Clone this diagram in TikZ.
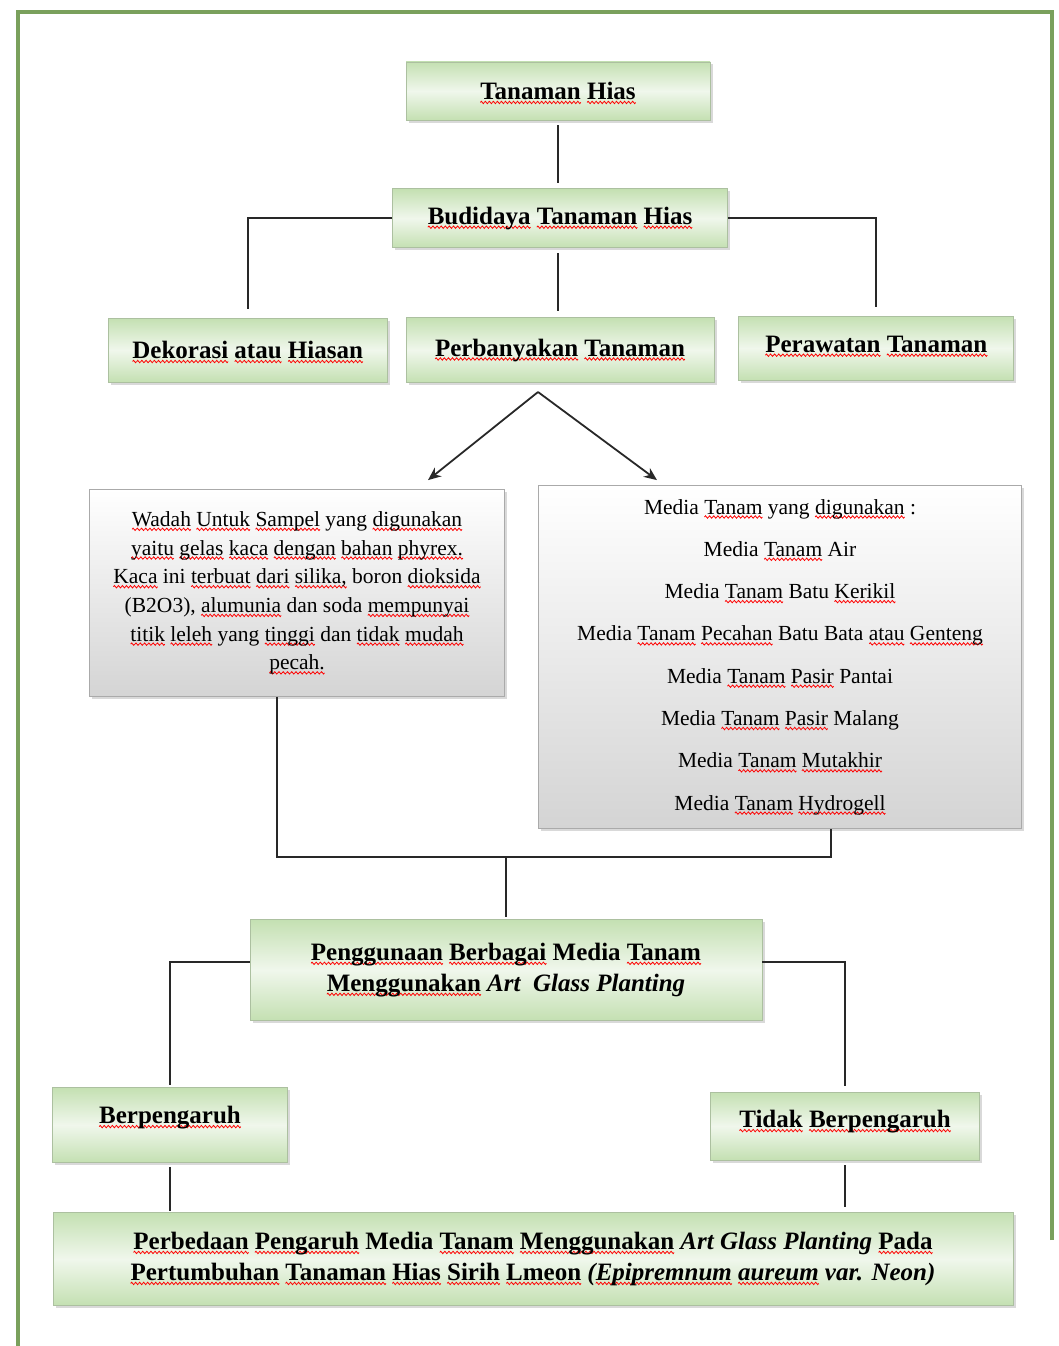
\documentclass[tikz,border=0pt]{standalone}
\usepackage{fontspec}
\setmainfont{Liberation Serif}
\definecolor{framegreen}{RGB}{122,160,92}
\definecolor{boxgreen}{RGB}{196,224,178}
\definecolor{boxlight}{RGB}{240,247,236}
\definecolor{boxedge}{RGB}{172,192,160}
\definecolor{boxgray}{RGB}{212,212,212}
\definecolor{linegray}{RGB}{40,40,40}
\usetikzlibrary{arrows.meta,positioning,shadows}
% red squiggle under a word
\newsavebox{\wavebox}
\newsavebox{\splbox}
\newcommand{\spl}[1]{\sbox{\splbox}{#1}\leavevmode\rlap{\raisebox{-4.5pt}[0pt][0pt]{\hbox to \wd\splbox{\xleaders\copy\wavebox\hfill}}}\usebox{\splbox}}

\begin{document}
\sbox{\wavebox}{\begin{pgfpicture}
    \pgfpathmoveto{\pgfpoint{0pt}{0pt}}
    \pgfpathsine{\pgfpoint{1pt}{1.2pt}}
    \pgfpathcosine{\pgfpoint{1pt}{-1.2pt}}
    \pgfpathsine{\pgfpoint{1pt}{-1.2pt}}
    \pgfpathcosine{\pgfpoint{1pt}{1.2pt}}
    \pgfsetcolor{red}\pgfsetlinewidth{0.8pt}\pgfusepath{stroke}
    \pgfresetboundingbox
    \pgfpathrectanglecorners{\pgfpoint{0pt}{-1.6pt}}{\pgfpoint{4pt}{1.6pt}}
    \pgfusepath{use as bounding box}
\end{pgfpicture}}%
\begin{tikzpicture}[x=1pt, y=-1pt,
    greenbox/.style={draw=boxedge, line width=0.8pt, top color=boxgreen, bottom color=boxgreen, middle color=boxlight,
        drop shadow={shadow xshift=2.5pt, shadow yshift=-2.5pt, opacity=0.3}, align=center, inner sep=0pt,
        font=\fontsize{25}{31}\selectfont\bfseries},
    graybox/.style={draw=boxgray!80!black, line width=0.8pt, top color=white, bottom color=boxgray,
        drop shadow={shadow xshift=2.5pt, shadow yshift=-2.5pt, opacity=0.3}, align=center, inner sep=0pt},
    link/.style={draw=linegray, line width=1.8pt},
    arrowlink/.style={link, -{Stealth[length=13pt, width=11pt]}}
]
    \useasboundingbox (0,0) rectangle (1059,1346);
    \draw[framegreen, line width=4pt] (1052,1240) -- (1052,12) -- (18,12) -- (18,1346);

    % upper part
    \node[greenbox, minimum width=304pt, minimum height=58pt] (hias) at (558,91) {\spl{Tanaman} \spl{Hias}};
    \node[greenbox, minimum width=335pt, minimum height=59pt, below=68pt of hias, xshift=2pt] (budidaya) {\spl{Budidaya} \spl{Tanaman} \spl{Hias}};
    \node[greenbox, minimum width=308pt, minimum height=65pt, below=69pt of budidaya] (perbanyakan) {\spl{Perbanyakan} \spl{Tanaman}};
    \node[greenbox, minimum width=279pt, minimum height=64pt, left=18pt of perbanyakan] (dekorasi) {\spl{Dekorasi} \spl{atau} \spl{Hiasan}};
    \node[greenbox, minimum width=275pt, minimum height=64pt, right=24pt of perbanyakan, yshift=2pt] (perawatan) {\raisebox{8pt}{\spl{Perawatan} \spl{Tanaman}}};

    % sample container and media
    \node[graybox, minimum width=415pt, minimum height=207pt, font=\fontsize{21.5}{28.7}\selectfont] (wadah) at (297,593)
        {\spl{Wadah} \spl{Untuk} \spl{Sampel} yang \spl{digunakan}\\
         \spl{yaitu} \spl{gelas} \spl{kaca} \spl{dengan} \spl{bahan} \spl{phyrex.}\\
         \spl{Kaca} ini \spl{terbuat} \spl{dari} \spl{silika,} boron \spl{dioksida}\\
         (B2O3), \spl{alumunia} dan soda \spl{mempunyai}\\
         \spl{titik} \spl{leleh} yang \spl{tinggi} dan \spl{tidak} \spl{mudah}\\
         \spl{pecah.}};
    \node[graybox, minimum width=483pt, minimum height=343pt, font=\fontsize{21.5}{42.3}\selectfont] (media) at (780,657)
        {Media \spl{Tanam} yang \spl{digunakan} :\\
         Media \spl{Tanam} Air\\
         Media \spl{Tanam} Batu \spl{Kerikil}\\
         Media \spl{Tanam} \spl{Pecahan} Batu Bata \spl{atau} \spl{Genteng}\\
         Media \spl{Tanam} \spl{Pasir} Pantai\\
         Media \spl{Tanam} \spl{Pasir} Malang\\
         Media \spl{Tanam} \spl{Mutakhir}\\
         Media \spl{Tanam} \spl{Hydrogell}};

    % lower part
    \node[greenbox, minimum width=512pt, minimum height=101pt] (penggunaan) at (506,970)
        {\spl{Penggunaan} \spl{Berbagai} Media \spl{Tanam}\\ \spl{Menggunakan} \textit{Art~ Glass Planting}};
    \node[greenbox, minimum width=235pt, minimum height=75pt] (berpengaruh) at (170,1125) {\raisebox{20pt}{\spl{Berpengaruh}}};
    \node[greenbox, minimum width=269pt, minimum height=68pt] (tidak) at (845,1126) {\raisebox{14pt}{\spl{Tidak} \spl{Berpengaruh}}};
    \node[greenbox, minimum width=960pt, minimum height=93pt] (perbedaan) at (533,1259)
        {\spl{Perbedaan} \spl{Pengaruh} Media \spl{Tanam} \spl{Menggunakan} \textit{Art Glass Planting} \spl{Pada}\\
         \spl{Pertumbuhan} \spl{Tanaman} \spl{Hias} \spl{Sirih} \spl{Lmeon} \textit{(\spl{Epipremnum} \spl{aureum} var. Neon)}};

    % connectors
    \draw[link, shorten <=5pt, shorten >=5pt] (hias.south) -- (hias.south |- budidaya.north);
    \draw[link, shorten >=9pt] (budidaya.west) -| (dekorasi.north);
    \draw[link, shorten >=9pt] (budidaya.east) -| (perawatan.north);
    \draw[link, shorten <=5pt, shorten >=6pt] ([xshift=-2pt]budidaya.south) -- ([xshift=-2pt]perbanyakan.north);

    \coordinate (split) at ([xshift=-22pt, yshift=-9pt]perbanyakan.south);
    \coordinate (wadahtip) at ([xshift=131pt, yshift=9pt]wadah.north);
    \coordinate (mediatip) at ([xshift=-123pt, yshift=5pt]media.north);
    \draw[arrowlink] (split) -- (wadahtip);
    \draw[arrowlink] (split) -- (mediatip);

    \coordinate (join) at ([yshift=62pt]penggunaan.north);
    \draw[link] ([xshift=-20pt]wadah.south) |- (join) -| ([xshift=51pt]media.south);
    \draw[link, shorten >=2pt] (join) -- (penggunaan.north);
    \draw[link, shorten >=2pt] ([yshift=8pt]penggunaan.west) -| (berpengaruh.north);
    \draw[link, shorten >=6pt] ([yshift=8pt]penggunaan.east) -| (tidak.north);
    \draw[link, shorten <=4pt, shorten >=1pt] (berpengaruh.south) -- (berpengaruh.south |- perbedaan.north);
    \draw[link, shorten <=5pt, shorten >=5pt] (tidak.south) -- (tidak.south |- perbedaan.north);
\end{tikzpicture}
\end{document}
